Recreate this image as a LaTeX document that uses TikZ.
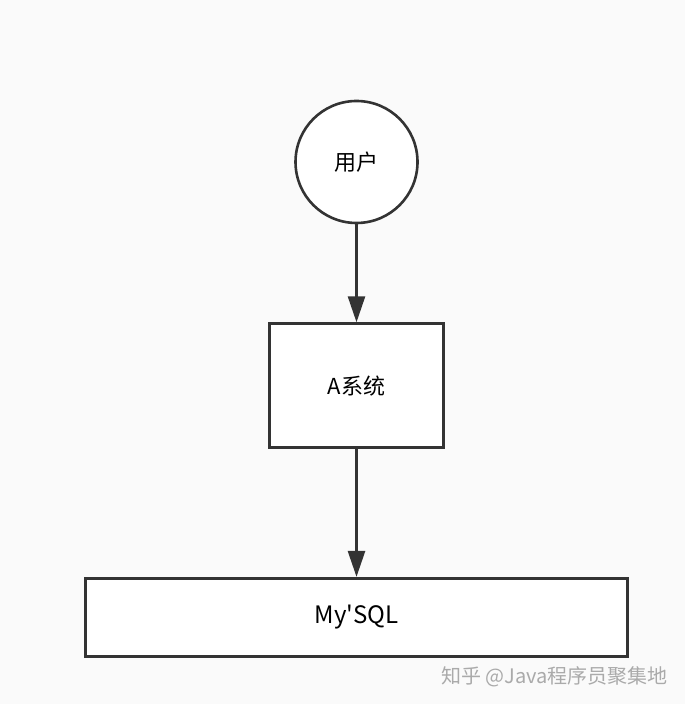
\documentclass[tikz,border=0pt]{standalone}
\usepackage{fontspec}
\setmainfont{Noto Sans CJK SC}[Ligatures=TeXOff]
\usepackage{tikz}
\usetikzlibrary{arrows.meta,positioning}
\definecolor{linegray}{RGB}{51,51,51}
\definecolor{markgray}{RGB}{170,170,170}
\definecolor{paper}{RGB}{250,250,250}

\begin{document}
\begin{tikzpicture}
  \tikzstyle{actor}=[circle,draw=linegray,line width=1.3pt,fill=white,minimum size=61pt,inner sep=0pt,font=\fontsize{11pt}{13pt}\selectfont]
  \tikzstyle{sysbox}=[rectangle,draw=linegray,line width=1.3pt,fill=white,minimum width=87pt,minimum height=62pt,font=\fontsize{11pt}{13pt}\selectfont]
  \tikzstyle{dbbox}=[rectangle,draw=linegray,line width=1.3pt,fill=white,minimum width=271pt,minimum height=39pt,font=\fontsize{12pt}{14pt}\selectfont]
  \tikzstyle{flow}=[draw=linegray,line width=1.3pt,-{Triangle[length=13pt,width=8.5pt]}]
  \fill[paper] (0,0) rectangle (342.5pt,-352pt);
  \useasboundingbox (0,0) rectangle (342.5pt,-352pt);
  \node[actor] (user) at (178.25pt,-81pt) {用户};
  \node[sysbox,below=49pt of user] (asys) {A系统};
  \node[dbbox,below=64pt of asys] (mysql) {My'SQL};
  \draw[flow] (user) -- (asys);
  \draw[flow] (asys) -- (mysql);
  % watermark
  \node[anchor=east,text=markgray,font=\fontsize{10pt}{12pt}\selectfont,inner sep=0pt] (mark) at (334pt,-338.5pt) {知乎 @Java程序员聚集地};
\end{tikzpicture}
\end{document}
